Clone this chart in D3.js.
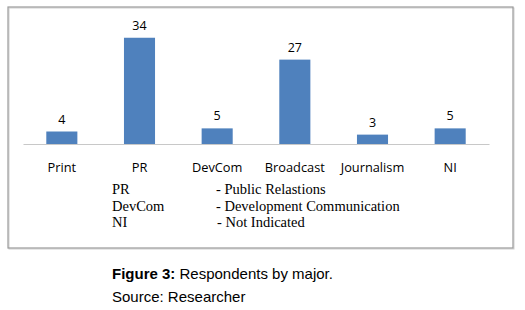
<!DOCTYPE html>
<html>
<head>
<meta charset="utf-8">
<script src="https://cdn.jsdelivr.net/npm/d3@7"></script>
<style>
  body { margin: 0; background: #fff; }
</style>
</head>
<body>
<div id="chart"></div>
<script>
// chart data
const majors = ["Print", "PR", "DevCom", "Broadcast", "Journalism", "NI"];
const respondents = [4, 34, 5, 27, 3, 5];

// abbreviation notes under the chart
const noteAbbr = ["PR", "DevCom", "NI"];
const noteText = ["- Public Relastions", "- Development Communication", "- Not Indicated"];

const width = 525, height = 310;

const svg = d3.select("#chart").append("svg")
    .attr("width", width)
    .attr("height", height);

// frame around the chart
svg.append("rect")
    .attr("x", 9).attr("y", 8)
    .attr("width", 505).attr("height", 241)
    .attr("fill", "none")
    .attr("stroke", "#d0d0d0")
    .attr("stroke-width", 1);
svg.append("rect")
    .attr("x", 8).attr("y", 7)
    .attr("width", 505).attr("height", 241)
    .attr("fill", "none")
    .attr("stroke", "#9a9a9a")
    .attr("stroke-width", 1.2);

// scales
let x = d3.scaleBand()
    .domain(majors)
    .range([23, 489])
    .paddingInner(0.6)
    .paddingOuter(0.3);

let y = d3.scaleLinear()
    .domain([0, 40])
    .range([144, 19]);

// bars
svg.selectAll(".bar")
    .data(majors)
    .enter().append("rect")
    .attr("class", "bar")
    .attr("x", d => x(d))
    .attr("width", x.bandwidth())
    .attr("y", (d, i) => y(respondents[i]))
    .attr("height", (d, i) => y(0) - y(respondents[i]))
    .attr("fill", "#4f81bd");

// value labels
svg.selectAll(".val")
    .data(majors)
    .enter().append("text")
    .attr("class", "val")
    .attr("x", d => x(d) + x.bandwidth() / 2)
    .attr("y", (d, i) => y(respondents[i]) - 8)
    .attr("text-anchor", "middle")
    .attr("font-family", "'Open Sans', sans-serif")
    .attr("font-size", 12.5)
    .attr("fill", "#000")
    .text((d, i) => respondents[i]);

// x axis (line only, labels below)
let xAxis = d3.axisBottom(x).tickSize(0).tickPadding(19);
let gx = svg.append("g")
    .attr("transform", "translate(0," + y(0) + ")")
    .call(xAxis);
gx.select(".domain").attr("stroke", "#c8c8c8").attr("stroke-width", 1.2);
gx.selectAll("text")
    .attr("font-family", "'Open Sans', sans-serif")
    .attr("font-size", 12.8)
    .attr("fill", "#000");

// abbreviation notes
let notes = svg.append("g")
    .attr("font-family", "'Liberation Serif', serif")
    .attr("font-size", 14.5)
    .attr("fill", "#000");
noteAbbr.forEach((a, i) => {
    notes.append("text").attr("x", 112).attr("y", 194 + i * 16.5).text(a);
    notes.append("text").attr("x", i == 2 ? 217 : 216).attr("y", 194 + i * 16.5).text(noteText[i]);
});

// caption
let cap = svg.append("text")
    .attr("x", 112).attr("y", 279)
    .attr("font-family", "'Liberation Sans', Arial, sans-serif")
    .attr("font-size", 15)
    .attr("fill", "#000");
cap.append("tspan").attr("font-weight", "bold").text("Figure 3:");
cap.append("tspan").text(" Respondents by major.");

svg.append("text")
    .attr("x", 112).attr("y", 302)
    .attr("font-family", "'Liberation Sans', Arial, sans-serif")
    .attr("font-size", 15)
    .attr("fill", "#000")
    .text("Source: Researcher");
</script>
</body>
</html>
